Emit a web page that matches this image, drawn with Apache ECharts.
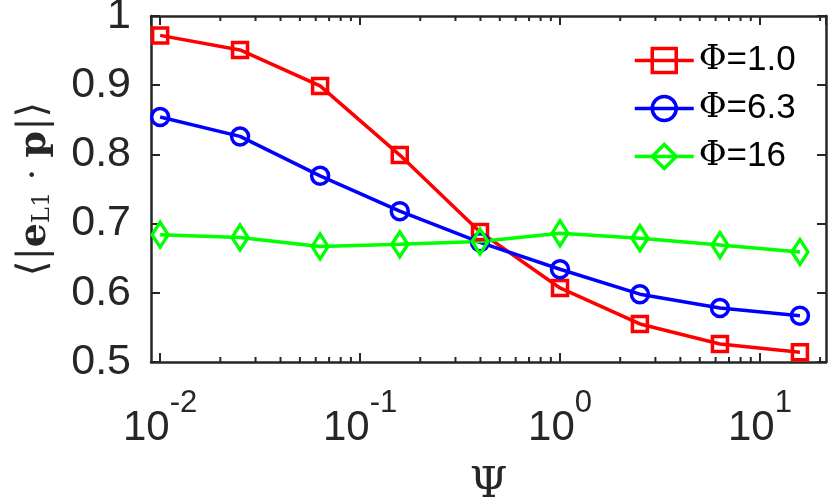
<!DOCTYPE html>
<html>
<head>
<meta charset="utf-8">
<script src="https://cdn.jsdelivr.net/npm/echarts@6/dist/echarts.min.js"></script>
<style>
  html, body { margin: 0; padding: 0; background: #fff; }
  #chart { width: 830px; height: 501px; }
</style>
</head>
<body>
<div id="chart"></div>
<script>
// Psi values (log x axis)
var psi = [0.01, 0.0251, 0.0631, 0.158, 0.398, 1.0, 2.51, 6.31, 15.85];

// <|e_L1 . p|> for each Phi
var phi10 = [0.972, 0.951, 0.899, 0.799, 0.688, 0.607, 0.555, 0.526, 0.514];
var phi63 = [0.854, 0.826, 0.769, 0.718, 0.673, 0.634, 0.598, 0.578, 0.567];
var phi16 = [0.684, 0.680, 0.667, 0.670, 0.674, 0.686, 0.679, 0.669, 0.659];

var seriesNames = ['\u03A6=1.0', '\u03A6=6.3', '\u03A6=16'];

// minor ticks of the log axis
var minorTicks = [0.02, 0.03, 0.04, 0.05, 0.06, 0.07, 0.08, 0.09,
                  0.2, 0.3, 0.4, 0.5, 0.6, 0.7, 0.8, 0.9,
                  2, 3, 4, 5, 6, 7, 8, 9, 20];

var xMin = 0.009, xMax = 21.4;
var axisColor = '#262626';

function pairs(ys) {
    var out = [];
    for (var i = 0; i < psi.length; i++) out.push([psi[i], ys[i]]);
    return out;
}

function lineSeries(name, ys, color, symbol, size) {
    return {
        name: name,
        type: 'line',
        data: pairs(ys),
        color: color,
        symbol: symbol,
        symbolSize: size,
        lineStyle: { color: color, width: 3.5 },
        itemStyle: { color: 'rgba(0,0,0,0)', borderColor: color, borderWidth: 3.5 },
        emphasis: { disabled: true },
        animation: false
    };
}

function powLabel(v) {
    var e = Math.round(Math.log(v) / Math.LN10);
    if (Math.abs(v - Math.pow(10, e)) > 1e-9 * Math.pow(10, e)) return '';
    return '{b|10}{sup|' + e + '}';
}

var chart = echarts.init(document.getElementById('chart'));

var xCommon = {
    type: 'log',
    logBase: 10,
    min: xMin,
    max: xMax,
    splitNumber: 4,
    axisLine: { show: true, onZero: false, lineStyle: { color: axisColor, width: 2.5 } },
    axisTick: { show: true, inside: true, length: 9, lineStyle: { color: axisColor, width: 2 } },
    splitLine: { show: false }
};

var yCommon = {
    type: 'value',
    min: 0.5,
    max: 1,
    interval: 0.1,
    axisLine: { show: true, lineStyle: { color: axisColor, width: 2.5 } },
    axisTick: { show: true, inside: true, length: 9, lineStyle: { color: axisColor, width: 2 } },
    splitLine: { show: false }
};

var option = {
    backgroundColor: '#fff',
    animation: false,
    grid: { left: 151, right: 4, top: 16, bottom: 139, containLabel: false, outerBoundsMode: 'none' },
    legend: {
        orient: 'vertical',
        left: 628,
        top: 38,
        itemWidth: 59,
        itemHeight: 30,
        itemGap: 13,
        lineStyle: { width: 3.5 },
        itemStyle: { borderWidth: 3.5 },
        textStyle: {
            fontFamily: 'Liberation Sans',
            fontSize: 34,
            lineHeight: 30,
            color: '#000',
            rich: {
                s: { fontFamily: 'DejaVu Serif', fontSize: 34, lineHeight: 30, color: '#000' },
                t: { fontFamily: 'Liberation Sans', fontSize: 35, lineHeight: 30, color: '#000' }
            }
        },
        formatter: function (name) {
            return '{s|' + name.charAt(0) + '}{t|' + name.slice(1) + '}';
        },
        data: seriesNames
    },
    xAxis: [
        Object.assign({}, xCommon, {
            position: 'bottom',
            name: '\u03A8',
            nameLocation: 'middle',
            nameGap: 102,
            nameTextStyle: { fontFamily: 'DejaVu Serif', fontSize: 43, color: axisColor },
            axisLabel: {
                show: true,
                margin: 26,
                showMinLabel: false,
                showMaxLabel: false,
                formatter: powLabel,
                rich: {
                    b: { fontFamily: 'Liberation Sans', fontSize: 42, color: axisColor, verticalAlign: 'bottom' },
                    sup: { fontFamily: 'Liberation Sans', fontSize: 31, color: axisColor, verticalAlign: 'top', padding: [0, 0, 30, 0] }
                }
            }
        }),
        Object.assign({}, xCommon, {
            position: 'top',
            axisLabel: { show: false }
        })
    ],
    yAxis: [
        Object.assign({}, yCommon, {
            position: 'left',
            name: '{br|\u27E8|}{b|e}{sub|L1}{m| \u00B7 }{b|p}{br||\u27E9}',
            nameLocation: 'middle',
            nameRotate: 90,
            nameGap: 96,
            nameTextStyle: {
                color: axisColor,
                rich: {
                    br: { fontFamily: 'DejaVu Serif', fontSize: 40, color: axisColor },
                    b: { fontFamily: 'DejaVu Serif', fontWeight: 'bold', fontSize: 38, color: axisColor },
                    sub: { fontFamily: 'DejaVu Serif', fontSize: 24, color: axisColor, verticalAlign: 'bottom', padding: [8, 0, 0, 0] },
                    m: { fontFamily: 'DejaVu Serif', fontSize: 36, color: axisColor }
                }
            },
            axisLabel: {
                show: true,
                margin: 20,
                fontFamily: 'Liberation Sans',
                fontSize: 43,
                color: axisColor,
                formatter: function (v) { return v === 1 ? '1' : v.toFixed(1); }
            }
        }),
        Object.assign({}, yCommon, {
            position: 'right',
            axisLabel: { show: false }
        })
    ],
    series: [
        lineSeries(seriesNames[0], phi10, '#ff0000', 'rect', 15),
        lineSeries(seriesNames[1], phi63, '#0000ff', 'circle', 17),
        lineSeries(seriesNames[2], phi16, '#00ff00', 'diamond', [16, 25]),
        {
            type: 'custom',
            silent: true,
            animation: false,
            data: minorTicks.filter(function (v) { return v > xMin && v < xMax; }),
            encode: { x: 0 },
            renderItem: function (params, api) {
                var cs = params.coordSys;
                var px = api.coord([api.value(0), 0.5])[0];
                var st = { stroke: axisColor, lineWidth: 2 };
                return {
                    type: 'group',
                    children: [
                        { type: 'line', shape: { x1: px, y1: cs.y + cs.height, x2: px, y2: cs.y + cs.height - 5 }, style: st },
                        { type: 'line', shape: { x1: px, y1: cs.y, x2: px, y2: cs.y + 5 }, style: st }
                    ]
                };
            }
        }
    ]
};

chart.setOption(option);
</script>
</body>
</html>
